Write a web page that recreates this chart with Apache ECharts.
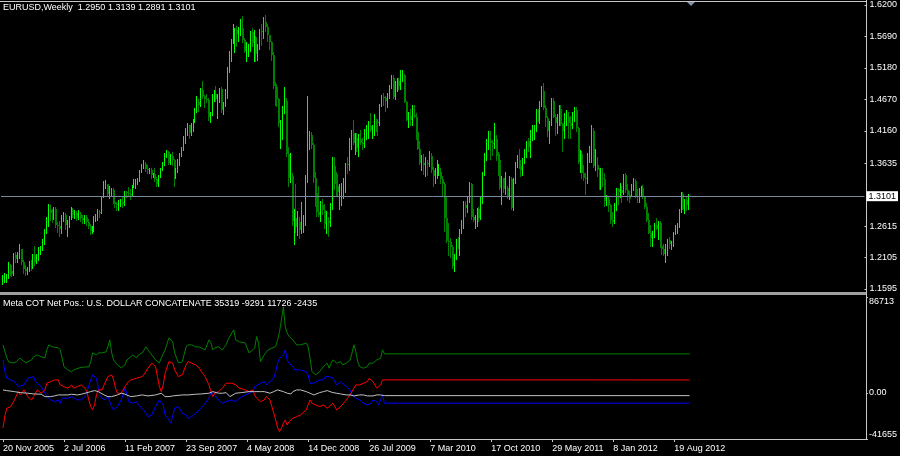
<!DOCTYPE html>
<html><head><meta charset="utf-8">
<script src="https://cdn.jsdelivr.net/npm/echarts@6/dist/echarts.min.js"></script>
<style>html,body{margin:0;padding:0;background:#000}#c{width:900px;height:456px}</style>
</head><body><div id="c"></div>
<script>
// ---------- DATA ----------
const symbolName = 'EURUSD,Weekly';
const firstWeek = Date.UTC(2005, 10, 20);   // first weekly bar: 20 Nov 2005
const weekCount = 453;                       // weeks spanned by the time axis (incl. chart shift)
const labelEvery = 32;                       // a date label every 32 weeks
const monthNames = ['Jan','Feb','Mar','Apr','May','Jun','Jul','Aug','Sep','Oct','Nov','Dec'];
const priceTickLabels = ['1.1595','1.2105','1.2615','1.3635','1.4160','1.4670','1.5180','1.5690','1.6200'];
const cotTickLabels = ['-41655','0.00','86713'];
const firstOpen = 1.1690;
const closes = [
1.1790,1.1800,1.1810,1.1990,1.1880,1.1840,1.2150,1.2080,1.2160,1.2240,
1.2030,1.1920,1.1880,1.1920,1.2020,1.1950,1.2140,1.2030,1.2110,1.2230,
1.2240,1.2370,1.2540,1.2620,1.2870,1.2830,1.2760,1.2900,1.2640,1.2620,
1.2570,1.2780,1.2800,1.2630,1.2670,1.2750,1.2880,1.2800,1.2830,1.2750,
1.2810,1.2750,1.2720,1.2770,1.2680,1.2620,1.2540,1.2580,1.2760,1.2770,
1.2850,1.2830,1.3100,1.3260,1.3290,1.3140,1.3150,1.3200,1.3010,1.2980,
1.2950,1.2990,1.3010,1.2980,1.3160,1.3150,1.3130,1.3120,1.3270,1.3300,
1.3340,1.3380,1.3520,1.3580,1.3620,1.3540,1.3520,1.3530,1.3440,1.3460,
1.3380,1.3300,1.3430,1.3540,1.3620,1.3780,1.3810,1.3640,1.3750,1.3680,
1.3420,1.3520,1.3620,1.3770,1.3880,1.3990,1.4180,1.4250,1.4130,1.4230,
1.4340,1.4500,1.4630,1.4580,1.4820,1.4730,1.4680,1.4660,1.4380,1.4440,
1.4750,1.4760,1.4680,1.4700,1.4830,1.4500,1.4600,1.4720,1.5180,1.5350,
1.5630,1.5780,1.5800,1.5730,1.5820,1.5830,1.5630,1.5460,1.5470,1.5480,
1.5760,1.5580,1.5680,1.5400,1.5490,1.5780,1.5770,1.5930,1.5840,1.5710,
1.5600,1.5390,1.4880,1.4870,1.4670,1.4280,1.4300,1.4520,1.4640,1.3780,
1.3400,1.3420,1.2700,1.2740,1.2600,1.2680,1.2550,1.2690,1.2720,1.3350,
1.3890,1.4100,1.3930,1.3400,1.3150,1.2850,1.2800,1.2950,1.2880,1.2650,
1.2700,1.2670,1.2920,1.3590,1.3290,1.3270,1.3170,1.3200,1.3260,1.3270,
1.3620,1.3600,1.4000,1.4130,1.3960,1.4040,1.3880,1.4030,1.3960,1.3950,
1.4110,1.4200,1.4240,1.4180,1.4200,1.4320,1.4310,1.4290,1.4570,1.4710,
1.4690,1.4640,1.4700,1.4890,1.5010,1.4710,1.4940,1.4960,1.4890,1.5000,
1.5060,1.4630,1.4340,1.4400,1.4330,1.4410,1.4390,1.4140,1.3870,1.3630,
1.3640,1.3610,1.3630,1.3620,1.3750,1.3530,1.3420,1.3460,1.3490,1.3500,
1.3380,1.3290,1.2750,1.2380,1.2360,1.2270,1.1970,1.2110,1.2390,1.2370,
1.2550,1.2630,1.2950,1.2910,1.3050,1.3290,1.2760,1.2710,1.2760,1.2890,
1.2740,1.3050,1.3480,1.3790,1.3940,1.4000,1.3960,1.3940,1.4030,1.3750,
1.3680,1.3240,1.3390,1.3220,1.3230,1.3100,1.3380,1.2910,1.3370,1.3620,
1.3690,1.3590,1.3530,1.3700,1.3750,1.3990,1.3900,1.4030,1.4080,1.4230,
1.4480,1.4430,1.4570,1.4810,1.4530,1.4370,1.4150,1.4270,1.4640,1.4390,
1.4280,1.4360,1.4520,1.4270,1.4150,1.4360,1.4390,1.4280,1.4240,1.4390,
1.4490,1.4200,1.3650,1.3790,1.3480,1.3390,1.3380,1.3770,1.3890,1.4150,
1.3590,1.3610,1.3520,1.3230,1.3390,1.3380,1.3030,1.3050,1.2960,1.2720,
1.2680,1.2930,1.3210,1.3160,1.3200,1.3150,1.3450,1.3200,1.3120,1.3060,
1.3270,1.3340,1.3100,1.3080,1.3220,1.3240,1.3080,1.2920,1.2720,1.2510,
1.2420,1.2520,1.2640,1.2570,1.2660,1.2290,1.2250,1.2160,1.2310,1.2390,
1.2330,1.2340,1.2510,1.2580,1.2620,1.2860,1.3130,1.2900,1.3040,1.2950,
1.3101];
const highs = [
1.1820,1.1850,1.1840,1.2040,1.2000,1.1920,1.2180,1.2200,1.2190,1.2320,
1.2250,1.2060,1.1980,1.1950,1.2050,1.2070,1.2170,1.2290,1.2160,1.2270,
1.2290,1.2410,1.2560,1.2760,1.2980,1.2960,1.2890,1.2930,1.2920,1.2680,
1.2690,1.2800,1.2840,1.2830,1.2710,1.2780,1.2920,1.2910,1.2870,1.2860,
1.2880,1.2850,1.2790,1.2790,1.2800,1.2730,1.2650,1.2620,1.2780,1.2810,
1.2890,1.2880,1.3110,1.3340,1.3370,1.3300,1.3260,1.3230,1.3230,1.3060,
1.3000,1.3040,1.3060,1.3080,1.3190,1.3190,1.3250,1.3220,1.3280,1.3380,
1.3380,1.3400,1.3530,1.3620,1.3680,1.3650,1.3600,1.3560,1.3550,1.3480,
1.3550,1.3410,1.3450,1.3560,1.3650,1.3800,1.3850,1.3840,1.3790,1.3810,
1.3710,1.3560,1.3700,1.3800,1.3900,1.4070,1.4200,1.4280,1.4260,1.4290,
1.4350,1.4530,1.4730,1.4680,1.4850,1.4970,1.4740,1.4760,1.4700,1.4460,
1.4760,1.4820,1.4880,1.4750,1.4860,1.4870,1.4620,1.4830,1.5190,1.5460,
1.5650,1.5900,1.5820,1.5860,1.5850,1.5980,1.6020,1.5660,1.5600,1.5570,
1.5780,1.5820,1.5790,1.5700,1.5560,1.5810,1.5900,1.6000,1.6040,1.5890,
1.5710,1.5620,1.5440,1.4950,1.4920,1.4700,1.4340,1.4560,1.4870,1.4700,
1.3900,1.3800,1.3480,1.2900,1.3300,1.2860,1.2760,1.3000,1.2800,1.3450,
1.4720,1.4150,1.4140,1.3960,1.3500,1.3160,1.3270,1.3020,1.3060,1.2970,
1.2860,1.2770,1.2990,1.3740,1.3740,1.3490,1.3460,1.3290,1.3310,1.3400,
1.3640,1.3740,1.4040,1.4180,1.4340,1.4130,1.4120,1.4110,1.4170,1.4050,
1.4190,1.4260,1.4320,1.4450,1.4250,1.4440,1.4350,1.4350,1.4590,1.4740,
1.4780,1.4730,1.4770,1.4910,1.5060,1.5060,1.4970,1.5020,1.5010,1.5140,
1.5140,1.5080,1.4650,1.4460,1.4510,1.4580,1.4580,1.4450,1.4190,1.3990,
1.3770,1.3790,1.3740,1.3690,1.3830,1.3800,1.3570,1.3560,1.3690,1.3620,
1.3560,1.3430,1.3330,1.3090,1.2670,1.2430,1.2310,1.2160,1.2400,1.2440,
1.2560,1.2720,1.3030,1.3030,1.3100,1.3330,1.3320,1.2900,1.2800,1.2910,
1.2920,1.3080,1.3500,1.3800,1.4030,1.4160,1.4160,1.4010,1.4280,1.4090,
1.3810,1.3790,1.3420,1.3400,1.3500,1.3260,1.3420,1.3410,1.3400,1.3650,
1.3760,1.3860,1.3690,1.3720,1.3860,1.4000,1.4040,1.4170,1.4250,1.4250,
1.4520,1.4520,1.4650,1.4880,1.4940,1.4580,1.4400,1.4320,1.4700,1.4700,
1.4440,1.4440,1.4580,1.4580,1.4290,1.4450,1.4490,1.4460,1.4400,1.4470,
1.4550,1.4550,1.4220,1.3850,1.3830,1.3600,1.3480,1.3800,1.3910,1.4250,
1.4200,1.3870,1.3730,1.3560,1.3550,1.3550,1.3480,1.3120,1.3090,1.2980,
1.2840,1.2990,1.3230,1.3230,1.3320,1.3270,1.3460,1.3480,1.3290,1.3180,
1.3290,1.3390,1.3380,1.3210,1.3240,1.3260,1.3280,1.3100,1.2990,1.2830,
1.2630,1.2540,1.2670,1.2750,1.2700,1.2690,1.2310,1.2330,1.2320,1.2400,
1.2440,1.2370,1.2520,1.2640,1.2670,1.2900,1.3170,1.3160,1.3050,1.3080,
1.3139];
const lows = [
1.1680,1.1710,1.1710,1.1770,1.1830,1.1800,1.1830,1.2030,1.2040,1.2100,
1.2000,1.1860,1.1830,1.1840,1.1880,1.1900,1.1940,1.1980,1.2010,1.2060,
1.2160,1.2220,1.2330,1.2510,1.2610,1.2720,1.2680,1.2730,1.2600,1.2520,
1.2460,1.2500,1.2700,1.2560,1.2460,1.2600,1.2730,1.2760,1.2740,1.2710,
1.2730,1.2690,1.2670,1.2660,1.2640,1.2580,1.2480,1.2500,1.2540,1.2700,
1.2720,1.2760,1.2820,1.3080,1.3230,1.3100,1.3070,1.3120,1.2990,1.2930,
1.2880,1.2870,1.2940,1.2930,1.2960,1.3080,1.3120,1.3060,1.3110,1.3250,
1.3240,1.3300,1.3350,1.3500,1.3560,1.3510,1.3480,1.3470,1.3400,1.3410,
1.3350,1.3260,1.3270,1.3410,1.3520,1.3600,1.3730,1.3620,1.3620,1.3600,
1.3260,1.3400,1.3500,1.3600,1.3750,1.3850,1.3970,1.4100,1.4050,1.4100,
1.4150,1.4300,1.4470,1.4480,1.4560,1.4700,1.4550,1.4620,1.4340,1.4300,
1.4420,1.4640,1.4640,1.4360,1.4620,1.4470,1.4430,1.4560,1.4700,1.5110,
1.5300,1.5580,1.5440,1.5530,1.5620,1.5720,1.5600,1.5430,1.5290,1.5380,
1.5450,1.5530,1.5300,1.5300,1.5310,1.5480,1.5550,1.5670,1.5780,1.5620,
1.5480,1.5310,1.4860,1.4580,1.4570,1.4230,1.3880,1.4020,1.4450,1.3750,
1.3270,1.3330,1.2640,1.2330,1.2520,1.2470,1.2420,1.2500,1.2520,1.2630,
1.3330,1.3860,1.3880,1.3330,1.2940,1.2780,1.2780,1.2690,1.2810,1.2580,
1.2510,1.2460,1.2620,1.2900,1.3220,1.3110,1.3120,1.2890,1.2960,1.3070,
1.3160,1.3470,1.3520,1.3870,1.3950,1.3780,1.3830,1.3750,1.3950,1.3860,
1.3900,1.4020,1.4040,1.4150,1.4050,1.4100,1.4150,1.4100,1.4260,1.4560,
1.4580,1.4480,1.4550,1.4690,1.4850,1.4700,1.4670,1.4800,1.4830,1.4830,
1.4960,1.4620,1.4330,1.4220,1.4250,1.4260,1.4380,1.4030,1.3860,1.3620,
1.3530,1.3460,1.3430,1.3450,1.3590,1.3490,1.3270,1.3320,1.3400,1.3450,
1.3320,1.3110,1.2530,1.2350,1.2150,1.2110,1.1940,1.1880,1.2080,1.2260,
1.2150,1.2500,1.2580,1.2780,1.2840,1.3000,1.2730,1.2700,1.2590,1.2620,
1.2690,1.2730,1.2990,1.3440,1.3680,1.3860,1.3700,1.3770,1.3880,1.3690,
1.3450,1.3220,1.2970,1.3170,1.3140,1.3070,1.3050,1.2900,1.2870,1.3320,
1.3570,1.3550,1.3430,1.3450,1.3640,1.3740,1.3840,1.3740,1.4010,1.4030,
1.4150,1.4320,1.4280,1.4560,1.4520,1.4240,1.4070,1.3970,1.4260,1.4380,
1.4100,1.4120,1.4250,1.4250,1.3840,1.4050,1.4250,1.4050,1.4050,1.4210,
1.4320,1.4150,1.3640,1.3500,1.3400,1.3360,1.3140,1.3320,1.3650,1.3650,
1.3580,1.3530,1.3420,1.3220,1.3220,1.3260,1.2940,1.2950,1.2860,1.2660,
1.2620,1.2660,1.2880,1.2980,1.3080,1.3000,1.3140,1.3170,1.3040,1.3000,
1.3110,1.3200,1.3090,1.3000,1.3000,1.3110,1.3070,1.2910,1.2690,1.2500,
1.2290,1.2290,1.2440,1.2560,1.2410,1.2270,1.2160,1.2140,1.2040,1.2150,
1.2260,1.2240,1.2300,1.2480,1.2500,1.2600,1.2850,1.2890,1.2830,1.2880,
1.2891];
// Meta COT net positions: [week index, value]
const cotGreen = [[0,43440],[2,31675],[3,28055],[5,27150],[7,28055],[9,31675],[10,29865],[12,27150],[15,29865],[16,32580],[18,34390],[20,32580],[22,31675],[23,38915],[24,43440],[26,41630],[27,40725],[29,40725],[30,38915],[31,31675],[32,23530],[34,20815],[36,19005],[37,20815],[40,22625],[43,23530],[45,23530],[46,28055],[47,36200],[49,34390],[50,36200],[52,36200],[54,37105],[55,41630],[56,47965],[57,36200],[58,29865],[60,25340],[62,22625],[64,25340],[65,29865],[67,32580],[68,34390],[70,31675],[71,34390],[73,36200],[75,41630],[76,38915],[78,34390],[80,29865],[82,27150],[83,31675],[85,38915],[87,49775],[88,50680],[89,46155],[90,36200],[92,27150],[94,28055],[96,41630],[97,43440],[99,43440],[101,41630],[103,41630],[104,41630],[106,38915],[108,47965],[109,45250],[110,38915],[111,40725],[113,41630],[115,38915],[117,43440],[118,47965],[120,54300],[121,57015],[122,47965],[124,46155],[125,46155],[127,45250],[129,36200],[131,38915],[132,40725],[133,50950],[134,44980],[135,28330],[136,31400],[137,34390],[139,38915],[141,40450],[143,41900],[144,47965],[145,55480],[146,66065],[147,77800],[148,60000],[149,54030],[150,50950],[151,49500],[152,47965],[154,43440],[156,43440],[157,41900],[159,44980],[160,41900],[161,31400],[162,19280],[163,17830],[164,16290],[166,19280],[168,23800],[170,26880],[171,22350],[172,26880],[173,29865],[175,26880],[177,28330],[178,25340],[180,26880],[182,29865],[183,35930],[184,43440],[185,37380],[186,28330],[187,23800],[189,22350],[191,23800],[192,26880],[194,26880],[196,29865],[198,31400],[199,38915],[200,35319],[360,35319]];
const cotBlue = [[0,29865],[1,19280],[2,13300],[4,11765],[6,10230],[8,5700],[9,4250],[11,7240],[13,13300],[14,14750],[16,14750],[17,10230],[18,8780],[20,5700],[22,-270],[23,-3350],[25,-6335],[27,-7875],[29,-6335],[30,-9320],[31,-4800],[32,-4800],[34,-4800],[36,-3350],[37,-4800],[39,-6335],[41,-6335],[43,-3350],[44,1180],[46,11765],[47,16290],[49,13300],[50,4250],[51,-3350],[53,-6335],[55,-3350],[57,-12400],[58,-15385],[60,-12400],[62,-6335],[64,4250],[65,2715],[66,-7875],[68,-9320],[70,-7875],[71,-10860],[73,-13850],[75,-18370],[76,-21450],[78,-19910],[80,-12400],[82,-6335],[83,-4800],[84,-10860],[85,-19910],[87,-24435],[88,-27420],[89,-25970],[90,-13850],[92,-12400],[94,-18370],[96,-19910],[97,-22900],[99,-21450],[101,-18370],[103,-15385],[104,-13850],[106,-9320],[108,-4800],[109,1180],[110,-270],[111,-1810],[113,-6335],[115,-9320],[117,-7875],[118,-9320],[120,-6335],[122,-7875],[124,-4800],[125,-3350],[127,-1810],[129,-270],[131,1180],[132,5700],[133,7240],[135,8780],[137,10230],[138,7240],[140,10230],[142,13300],[143,19280],[144,26880],[145,31400],[147,34390],[148,38915],[149,29865],[150,26880],[151,25340],[152,23800],[153,20815],[154,22350],[156,20815],[157,20815],[159,19280],[160,16290],[161,8780],[163,8780],[164,10230],[166,11765],[168,11765],[169,14750],[170,13300],[171,14750],[173,13300],[174,10230],[175,7240],[177,10230],[178,8780],[180,5700],[182,2715],[183,-1810],[184,-3350],[185,-4800],[187,-6335],[189,-9320],[191,-10860],[192,-12400],[193,-9320],[194,-6335],[195,-4800],[196,-7875],[197,-10860],[198,-6335],[199,-1810],[200,-9291],[360,-9291]];
const cotRed = [[0,-31675],[1,-20815],[2,-13850],[4,-12400],[6,-6335],[8,1180],[9,-1810],[11,2715],[13,-3350],[15,-6335],[16,-3350],[18,2715],[20,-270],[22,2715],[23,8780],[25,10230],[27,11765],[29,11765],[30,7240],[32,5700],[34,4250],[36,7240],[37,4250],[39,5700],[41,7240],[43,4250],[44,1180],[45,-6335],[46,-12400],[47,-15385],[48,-10860],[49,-1810],[50,2715],[51,4250],[52,2715],[53,7240],[55,14750],[57,16290],[58,11765],[59,4250],[60,-270],[61,-1810],[62,-270],[64,5700],[65,8780],[67,11765],[68,10230],[70,13300],[71,14750],[73,14750],[75,19280],[76,22350],[78,26880],[80,23800],[81,14750],[82,5700],[83,1180],[84,7240],[85,17830],[87,28330],[88,29865],[89,26880],[90,20815],[92,14750],[94,16290],[96,25340],[97,28330],[99,26880],[101,25340],[103,22350],[104,19280],[106,14750],[108,7240],[109,1180],[110,-3350],[111,-270],[113,1180],[115,4250],[117,8780],[118,10230],[120,8780],[122,7240],[124,4250],[125,5700],[127,2715],[129,1180],[131,2715],[132,-1810],[133,-4800],[134,-6335],[135,-7875],[137,-6335],[138,-3350],[140,-6335],[141,-12400],[142,-18370],[143,-24435],[144,-31675],[145,-35020],[146,-31950],[147,-27420],[148,-24435],[149,-28960],[150,-25970],[152,-22900],[154,-21450],[156,-19910],[157,-18370],[159,-15385],[160,-10860],[161,-6335],[162,-9320],[163,-9320],[164,-10860],[166,-12400],[168,-10860],[170,-13850],[171,-12400],[173,-9320],[175,-15385],[177,-12400],[178,-10860],[180,-6335],[182,-1810],[184,4250],[185,7240],[186,8780],[187,7240],[189,8780],[191,10230],[192,13300],[193,14750],[194,10230],[195,8780],[196,4250],[197,2715],[198,7240],[199,11765],[200,11726],[360,11726]];
const cotWhite = [[0,2715],[2,2080],[6,1180],[9,270],[13,-270],[16,-905],[20,-1180],[22,-3350],[23,-3890],[25,-3350],[27,-2715],[29,-1810],[31,-1810],[32,-1180],[34,-1810],[36,-1180],[37,-1810],[39,-1810],[41,-1180],[43,-270],[44,270],[46,1180],[48,2080],[50,1180],[51,-270],[53,-1810],[55,-3350],[57,-3350],[58,-2715],[60,-1810],[62,-270],[64,-1180],[65,-1810],[67,-3350],[70,-2715],[73,-1810],[76,-2715],[80,-1810],[83,-270],[84,-1810],[85,-3350],[87,-3350],[89,-2715],[90,-3350],[94,-1810],[97,-1810],[101,-1180],[104,-905],[108,-270],[110,1180],[111,1180],[113,-270],[115,-270],[117,270],[118,-270],[119,-3350],[120,-1810],[122,-270],[125,270],[129,1180],[132,1180],[133,2715],[135,1180],[137,1180],[138,2715],[140,-270],[142,1180],[144,2715],[145,3350],[147,1180],[149,-270],[150,-1810],[151,-905],[152,1180],[154,2715],[156,2715],[157,2080],[159,1180],[161,-270],[163,-1810],[164,-270],[166,270],[168,1180],[170,2080],[171,1180],[173,270],[175,-270],[177,-905],[178,-270],[180,-1810],[182,-1810],[184,-2715],[185,-1810],[187,-1810],[189,-1810],[191,-2715],[192,-3350],[194,-2715],[196,-1810],[198,-1810],[199,-3350],[200,-2435],[360,-2435]];
const cotMin = -41655, cotMax = 86713;
const priceMin = 1.1595, priceMax = 1.6200;

// ---------- BUILD ----------
const weeks = [];
for (let k = 0; k < weekCount; k++) {
  const d = new Date(firstWeek + k * 7 * 86400000);
  weeks.push(d.getUTCDate() + ' ' + monthNames[d.getUTCMonth()] + ' ' + d.getUTCFullYear());
}
const opens = [firstOpen].concat(closes.slice(0, closes.length - 1));
const bars = closes.map((c, i) => [i, opens[i], c, lows[i], highs[i]]);
const last = closes.length - 1;
const f4 = v => v.toFixed(4);
const titleText = symbolName + '  ' + f4(opens[last]) + ' ' + f4(highs[last]) + ' ' + f4(lows[last]) + ' ' + f4(closes[last]);
const lastOf = s => s[s.length - 1][1];
const cotText = 'Meta COT Net Pos.: U.S. DOLLAR CONCATENATE ' + [cotGreen, cotBlue, cotRed, cotWhite].map(lastOf).join(' ');
const showDate = i => i % labelEvery === 0 && i <= last;

const FONT = 'Liberation Sans, Arial, sans-serif';
const FG = '#ffffff';
const FRAME = '#c8c8c8';
const UP = '#00ff00', DOWN = '#008000';

function renderBar(params, api) {
  const i = api.value(0), o = api.value(1), c = api.value(2), l = api.value(3), h = api.value(4);
  const pH = api.coord([i, h]), pL = api.coord([i, l]);
  const pO = api.coord([i, o]), pC = api.coord([i, c]);
  const x = Math.round(pH[0]) + 0.5;
  const up = c >= o;
  const col = up ? UP : DOWN;
  const kids = [{type: 'line', shape: {x1: x, y1: Math.round(pH[1]), x2: x, y2: Math.round(pL[1]) + 1}, style: {stroke: col, lineWidth: 1}}];
  if (!up) {
    const top = Math.round(Math.min(pO[1], pC[1])), bot = Math.round(Math.max(pO[1], pC[1]));
    kids.push({type: 'rect', shape: {x: x - 0.5, y: top, width: 2, height: Math.max(1, bot - top)}, style: {fill: col}});
  }
  return {type: 'group', children: kids};
}

const chart = echarts.init(document.getElementById('c'), null, {renderer: 'canvas'});
const lineS = (name, data, color) => ({
  name, type: 'line', xAxisIndex: 1, yAxisIndex: 1, data, showSymbol: false, symbol: 'none',
  lineStyle: {color, width: 1}, animation: false, silent: true
});
chart.setOption({
  backgroundColor: '#000',
  animation: false,
  title: [
    {text: titleText, left: 3, top: 3, padding: 0, textStyle: {color: FG, fontSize: 9, fontWeight: 'normal', fontFamily: FONT}},
    {text: cotText, left: 3, top: 299, padding: 0, textStyle: {color: FG, fontSize: 9, fontWeight: 'normal', fontFamily: FONT}}
  ],
  grid: [
    {left: 1, right: 34, top: 5, height: 284},
    {left: 1, right: 34, top: 297, height: 142}
  ],
  xAxis: [
    {type: 'category', gridIndex: 0, data: weeks, boundaryGap: true,
     axisLine: {show: false, onZero: false}, axisTick: {show: false}, axisLabel: {show: false}, splitLine: {show: false}},
    {type: 'category', gridIndex: 1, data: weeks, boundaryGap: true,
     axisLine: {show: false, onZero: false},
     axisTick: {show: true, alignWithLabel: true, interval: showDate, length: 3, lineStyle: {color: FRAME}},
     axisLabel: {interval: showDate, color: FG, fontSize: 9, fontFamily: FONT, align: 'left', margin: 5, hideOverlap: false},
     splitLine: {show: false}}
  ],
  yAxis: [
    {type: 'value', gridIndex: 0, position: 'right', min: priceMin, max: priceMax,
     axisLine: {show: false, onZero: false}, splitLine: {show: false},
     axisTick: {show: true, length: 2, lineStyle: {color: FRAME}, customValues: priceTickLabels.map(Number)},
     axisLabel: {color: FG, fontSize: 9, fontFamily: FONT, margin: 5, customValues: priceTickLabels.map(Number),
       formatter: v => priceTickLabels.find(t => Math.abs(Number(t) - v) < 1e-6) || ''}},
    {type: 'value', gridIndex: 1, position: 'right', min: cotMin, max: cotMax,
     axisLine: {show: false, onZero: false}, splitLine: {show: false},
     axisTick: {show: true, length: 2, lineStyle: {color: FRAME}, customValues: cotTickLabels.map(Number)},
     axisLabel: {color: FG, fontSize: 9, fontFamily: FONT, margin: 3, customValues: cotTickLabels.map(Number),
       verticalAlignMinLabel: 'bottom', verticalAlignMaxLabel: 'top',
       formatter: v => cotTickLabels.find(t => Math.abs(Number(t) - v) < 1e-6) || ''}}
  ],
  series: [
    {name: 'EURUSD', type: 'custom', xAxisIndex: 0, yAxisIndex: 0, data: bars, silent: true,
     encode: {x: 0, y: [3, 4]}, renderItem: renderBar, clip: false,
     markLine: {symbol: 'none', silent: true, animation: false,
       lineStyle: {color: '#778899', width: 1, type: 'solid'},
       label: {position: 'end', distance: 2, formatter: () => f4(closes[last]), color: '#000', backgroundColor: '#ffffff',
         padding: [1, 2, 0, 2], fontSize: 9, fontFamily: FONT},
       data: [{yAxis: closes[last]}]}},
    lineS('COT 1', cotGreen, '#008000'),
    lineS('COT 2', cotBlue, '#0000ff'),
    lineS('COT 3', cotRed, '#ff0000'),
    lineS('COT 4', cotWhite, '#c0c0c0')
  ],
  graphic: [
    {type: 'line', shape: {x1: 0, y1: 1.5, x2: 866, y2: 1.5}, style: {stroke: FRAME, lineWidth: 1}, silent: true},
    {type: 'line', shape: {x1: 866.5, y1: 0, x2: 866.5, y2: 440}, style: {stroke: FRAME, lineWidth: 1}, silent: true},
    {type: 'rect', shape: {x: 0, y: 292, width: 866, height: 3}, style: {fill: '#a0a0a0'}, silent: true},
    {type: 'line', shape: {x1: 0, y1: 439.5, x2: 866, y2: 439.5}, style: {stroke: FRAME, lineWidth: 1}, silent: true},
    {type: 'polygon', shape: {points: [[687, 2], [695, 2], [691, 6]]}, style: {fill: '#8090a8'}, silent: true}
  ]
});
</script>
</body></html>
